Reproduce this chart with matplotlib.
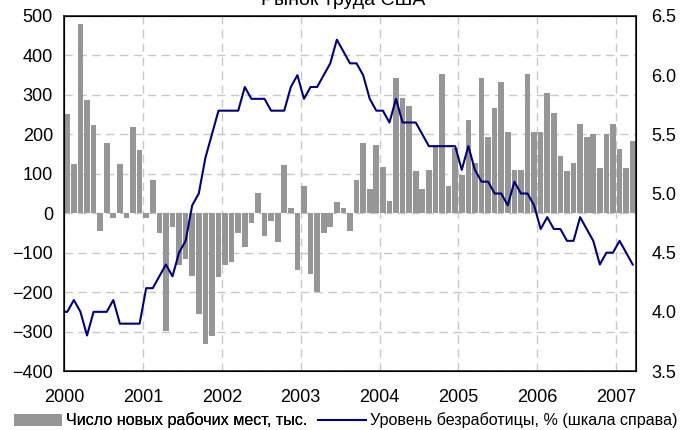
import matplotlib
matplotlib.use("Agg")
import matplotlib.pyplot as plt
from matplotlib.patches import Patch
from matplotlib.lines import Line2D
import numpy as np

plt.rcParams["font.family"] = ["Liberation Sans", "DejaVu Sans"]

# monthly data, Jan 2000 .. Mar 2007
years = ["2000", "2001", "2002", "2003", "2004", "2005", "2006", "2007"]

new_jobs = [
    251, 124, 480, 287, 223, -45, 178, -13, 124, -13, 218, 160,      # 2000
    -13, 83, -49, -298, -36, -131, -117, -158, -256, -332, -311, -162,  # 2001
    -131, -123, -49, -86, -25, 51, -57, -19, -72, 123, 14, -144,     # 2002
    69, -154, -199, -49, -36, 28, 14, -44, 83, 178, 61, 173,         # 2003
    118, 32, 344, 292, 272, 106, 61, 110, 173, 353, 69, 165,         # 2004
    97, 237, 128, 344, 192, 268, 332, 205, 110, 110, 353, 205,       # 2005
    206, 304, 254, 146, 106, 128, 227, 192, 200, 114, 200, 227,      # 2006
    163, 114, 182,                                                   # 2007
]

# unemployment rate, starts with Dec 1999
unemployment = [
    4.0,
    4.0, 4.1, 4.0, 3.8, 4.0, 4.0, 4.0, 4.1, 3.9, 3.9, 3.9, 3.9,
    4.2, 4.2, 4.3, 4.4, 4.3, 4.5, 4.6, 4.9, 5.0, 5.3, 5.5, 5.7,
    5.7, 5.7, 5.7, 5.9, 5.8, 5.8, 5.8, 5.7, 5.7, 5.7, 5.9, 6.0,
    5.8, 5.9, 5.9, 6.0, 6.1, 6.3, 6.2, 6.1, 6.1, 6.0, 5.8, 5.7,
    5.7, 5.6, 5.8, 5.6, 5.6, 5.6, 5.5, 5.4, 5.4, 5.4, 5.4, 5.4,
    5.2, 5.4, 5.2, 5.1, 5.1, 5.0, 5.0, 4.9, 5.1, 5.0, 5.0, 4.9,
    4.7, 4.8, 4.7, 4.7, 4.6, 4.6, 4.8, 4.7, 4.6, 4.4, 4.5, 4.5,
    4.6, 4.5, 4.4,
]

title = "Рынок труда США"
bar_label = "Число новых рабочих мест, тыс."
line_label = "Уровень безработицы, % (шкала справа)"

bar_color = "#969696"
line_color = "#000080"


def main():
    fig = plt.figure(figsize=(6.8, 4.3), dpi=100)
    ax = fig.add_axes([64 / 680, 1 - 371 / 430, 572 / 680, 355 / 430])

    n = len(new_jobs)
    x_bar = np.arange(n) + 0.5
    ax.bar(x_bar, new_jobs, width=0.86, color=bar_color, zorder=2)

    ax.set_xlim(0, n)
    ax.set_ylim(-400, 500)
    ax.set_yticks(range(-400, 501, 100))
    ax.set_xticks(np.arange(len(years)) * 12)
    ax.set_xticklabels(years)
    ax.tick_params(length=0, labelsize=13, pad=8)
    ax.tick_params(axis="x", pad=13)
    ax.grid(True, color="#c8c8c8", linestyle=(0, (6, 4)), linewidth=1, zorder=0)
    ax.set_axisbelow(True)
    for s in ax.spines.values():
        s.set_linewidth(1.2)
        s.set_color("#202020")

    ax2 = ax.twinx()
    x_line = np.arange(len(unemployment)) - 0.5
    ax2.plot(x_line, unemployment, color=line_color, linewidth=1.5,
             clip_on=True)
    ax2.set_ylim(3.5, 6.5)
    ax2.set_yticks(np.arange(3.5, 6.51, 0.5))
    ax2.set_yticklabels([f"{v:.1f}" for v in np.arange(3.5, 6.51, 0.5)])
    ax2.tick_params(length=0, labelsize=13, pad=11)
    ax2.set_xlim(0, n)

    fig.text(0.505, 0.998, title, ha="center", va="center", fontsize=14)

    # two legend entries placed separately, as in the reference
    leg_kw = dict(frameon=False, fontsize=11.6, handletextpad=0.25,
                  borderpad=0.1, borderaxespad=0, handleheight=0.8)
    leg1 = fig.legend(handles=[Patch(facecolor=bar_color, edgecolor="none",
                                     label=bar_label)],
                      loc="lower left", bbox_to_anchor=(12 / 680, 0.0),
                      handlelength=3.0, **leg_kw)
    fig.add_artist(leg1)
    fig.legend(handles=[Line2D([0], [0], color=line_color, linewidth=1.5,
                               label=line_label)],
               loc="lower right", bbox_to_anchor=(679 / 680, 0.0),
               handlelength=3.0, **leg_kw)

    fig.savefig("out.png", dpi=100)


if __name__ == "__main__":
    main()
